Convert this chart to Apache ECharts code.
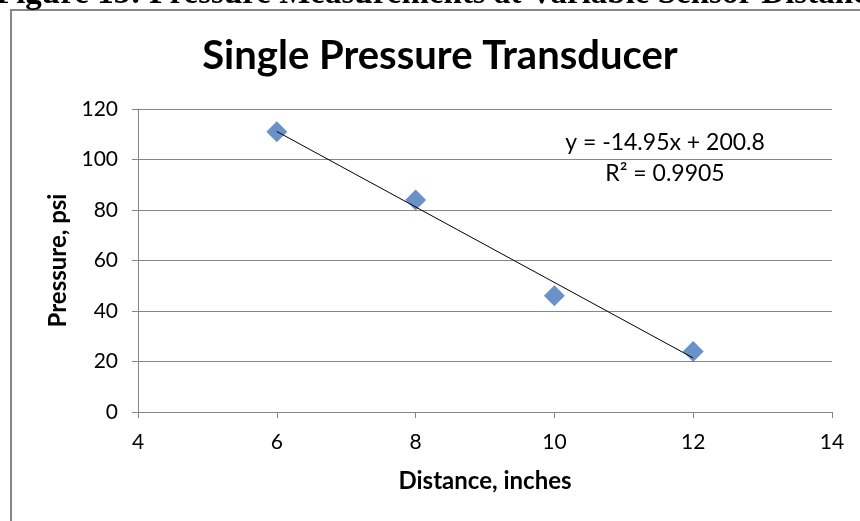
<!DOCTYPE html>
<html>
<head>
<meta charset="utf-8">
<script src="https://cdn.jsdelivr.net/npm/echarts@6/dist/echarts.min.js"></script>
<style>html,body{margin:0;padding:0;background:#fff;}#c{width:860px;height:521px;}</style>
</head>
<body>
<div id="c"></div>
<script>
const distances = [6, 8, 10, 12];
const pressures = [111, 84, 46, 24];
const xTicks = [4, 6, 8, 10, 12, 14];
const yTicks = [0, 20, 40, 60, 80, 100, 120];
const chartTitle = 'Single Pressure Transducer';
const figureCaption = 'Figure 13: Pressure Measurements at Variable Sensor Distance';
const xName = 'Distance, inches';
const yName = 'Pressure, psi';

// least-squares trendline from data
const n = distances.length;
const mx = distances.reduce((a, b) => a + b, 0) / n;
const my = pressures.reduce((a, b) => a + b, 0) / n;
let sxy = 0, sxx = 0, syy = 0;
for (let i = 0; i < n; i++) {
  sxy += (distances[i] - mx) * (pressures[i] - my);
  sxx += (distances[i] - mx) ** 2;
  syy += (pressures[i] - my) ** 2;
}
const slope = sxy / sxx;
const intercept = my - slope * mx;
const r2 = (sxy * sxy) / (sxx * syy);
const xMin = Math.min(...distances), xMax = Math.max(...distances);
const trend = [[xMin, slope * xMin + intercept], [xMax, slope * xMax + intercept]];
const eqText = 'y = ' + slope.toFixed(2) + 'x + ' + intercept.toFixed(1);
const r2Text = 'R² = ' + r2.toFixed(4);

const font = 'Lato, "Open Sans", sans-serif';
const chart = echarts.init(document.getElementById('c'));
chart.setOption({
  animation: false,
  backgroundColor: '#fff',
  grid: { left: 138, right: 28, top: 109, bottom: 109, containLabel: false },
  xAxis: {
    type: 'value', min: xTicks[0], max: xTicks[xTicks.length - 1], interval: 2,
    name: xName, nameLocation: 'middle', nameGap: 57,
    nameTextStyle: { fontFamily: font, fontWeight: 'bold', fontSize: 24, color: '#000' },
    axisLine: { show: true, onZero: false, lineStyle: { color: '#868686', width: 1 } },
    axisTick: { show: true, length: 6, lineStyle: { color: '#868686' } },
    axisLabel: { fontFamily: font, fontSize: 21, color: '#000', margin: 20 },
    splitLine: { show: false }
  },
  yAxis: {
    type: 'value', min: yTicks[0], max: yTicks[yTicks.length - 1], interval: 20,
    name: yName, nameLocation: 'middle', nameGap: 68, nameRotate: 90,
    nameTextStyle: { fontFamily: font, fontWeight: 'bold', fontSize: 24, color: '#000' },
    axisLine: { show: true, lineStyle: { color: '#868686', width: 1 } },
    axisTick: { show: true, length: 6, lineStyle: { color: '#868686' } },
    axisLabel: { fontFamily: font, fontSize: 21, color: '#000', margin: 20 },
    splitLine: { show: true, lineStyle: { color: '#868686', width: 1 } }
  },
  series: [
    {
      type: 'line', data: trend, showSymbol: false, symbol: 'none',
      lineStyle: { color: '#000', width: 1 }, z: 3, silent: true
    },
    {
      type: 'scatter', data: distances.map((d, i) => [d, pressures[i]]),
      symbol: 'diamond', symbolSize: 21,
      itemStyle: { color: '#4677BA' }, z: 2
    }
  ],
  graphic: [
    {
      type: 'rect', shape: { x: 11, y: 10, width: 900, height: 600 },
      style: { fill: 'none', stroke: '#868686', lineWidth: 2 }, z: -10
    },
    {
      type: 'text', x: -4, y: -22,
      style: { text: figureCaption, font: 'bold 33px "Liberation Serif", "Times New Roman", serif', fill: '#000' }
    },
    {
      type: 'text', x: 440, y: 56,
      style: { text: chartTitle, font: 'bold 40px ' + font, fill: '#000', textAlign: 'center', textVerticalAlign: 'middle' }
    },
    {
      type: 'text', x: 665, y: 143,
      style: { text: eqText, font: '23px ' + font, fill: '#000', textAlign: 'center', textVerticalAlign: 'middle' }
    },
    {
      type: 'text', x: 665, y: 174,
      style: { text: r2Text, font: '23px ' + font, fill: '#000', textAlign: 'center', textVerticalAlign: 'middle' }
    }
  ]
});
</script>
</body>
</html>
